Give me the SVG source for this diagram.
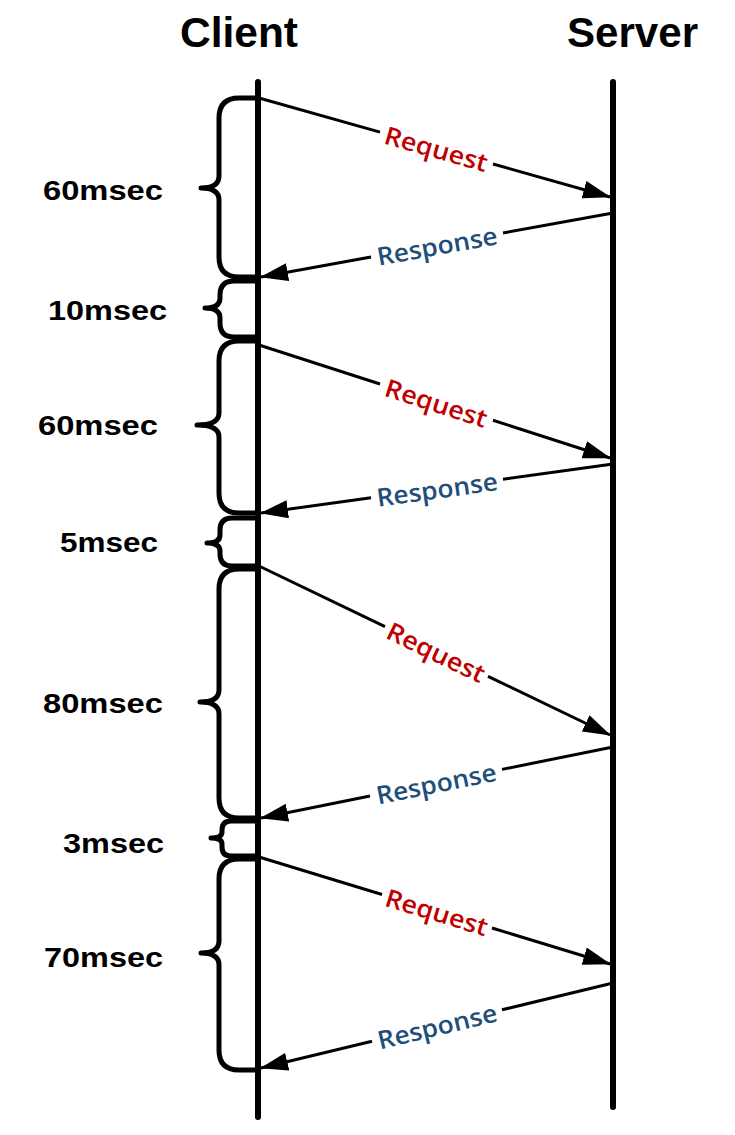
<svg xmlns="http://www.w3.org/2000/svg" width="735" height="1135" viewBox="0 0 735 1135">
<style>
.title{font-family:"Liberation Sans",Arial,sans-serif;font-weight:bold;font-size:42px;fill:#000}
.dur{font-family:"Liberation Sans",Arial,sans-serif;font-weight:bold;font-size:27px;fill:#000}
.req{font-family:"Open Sans","Liberation Sans",sans-serif;font-weight:600;font-size:25px;fill:#C00000}
.resp{font-family:"Open Sans","Liberation Sans",sans-serif;font-weight:600;font-size:25px;fill:#1F4E79}
.life{stroke:#000;stroke-width:6;stroke-linecap:round;fill:none}
.brace{stroke:#000;stroke-width:5;fill:none;stroke-linejoin:round}
.msg{stroke:#000;stroke-width:3;fill:none}
</style>
<defs>
<marker id="ah" markerWidth="28" markerHeight="18" refX="27" refY="9" orient="auto" markerUnits="userSpaceOnUse">
<path d="M0,0 L28,9 L0,18 z" fill="#000"/>
</marker>
</defs>
<g id="client">
<text class="title" x="180" y="47" textLength="118" lengthAdjust="spacingAndGlyphs">Client</text>
<line class="life" x1="258" y1="82" x2="258" y2="1117"/>
</g>
<g id="server">
<text class="title" x="567" y="47" textLength="131" lengthAdjust="spacingAndGlyphs">Server</text>
<line class="life" x1="613" y1="82" x2="613" y2="1107"/>
</g>
<g id="brace1">
<path class="brace" d="M258,98 H239 Q219,98 219,118 V176 Q219,188 201,188 Q219,188 219,200 V257 Q219,277 239,277 H258"/>
<text class="dur" x="43" y="200" textLength="120" lengthAdjust="spacingAndGlyphs">60msec</text>
</g>
<g id="brace2">
<path class="brace" d="M258,281 H234 Q220,281 220,295 V298 Q220,308 205,308 Q220,308 220,318 V323 Q220,337 234,337 H258"/>
<text class="dur" x="48" y="320" textLength="119" lengthAdjust="spacingAndGlyphs">10msec</text>
</g>
<g id="brace3">
<path class="brace" d="M258,341 H239 Q219,341 219,361 V413 Q219,425 197,425 Q219,425 219,437 V493 Q219,513 239,513 H258"/>
<text class="dur" x="38" y="435" textLength="120" lengthAdjust="spacingAndGlyphs">60msec</text>
</g>
<g id="brace4">
<path class="brace" d="M258,518 H232 Q220,518 220,530 V535 Q220,543 207,543 Q220,543 220,551 V554 Q220,566 232,566 H258"/>
<text class="dur" x="60" y="552" textLength="98" lengthAdjust="spacingAndGlyphs">5msec</text>
</g>
<g id="brace5">
<path class="brace" d="M258,569 H239 Q219,569 219,589 V690 Q219,702 200,702 Q219,702 219,714 V798 Q219,818 239,818 H258"/>
<text class="dur" x="43" y="713" textLength="120" lengthAdjust="spacingAndGlyphs">80msec</text>
</g>
<g id="brace6">
<path class="brace" d="M258,821 H231 Q222,821 222,830 V832 Q222,838 211,838 Q222,838 222,844 V847 Q222,856 231,856 H258"/>
<text class="dur" x="63" y="853" textLength="101" lengthAdjust="spacingAndGlyphs">3msec</text>
</g>
<g id="brace7">
<path class="brace" d="M258,859 H239 Q219,859 219,879 V941 Q219,953 201,953 Q219,953 219,965 V1050 Q219,1070 239,1070 H258"/>
<text class="dur" x="44" y="967" textLength="119" lengthAdjust="spacingAndGlyphs">70msec</text>
</g>
<g id="connectors">
<line class="msg" x1="259" y1="98" x2="380" y2="132.1"/>
<line class="msg" x1="493" y1="164" x2="610" y2="197" marker-end="url(#ah)"/>
<line class="msg" x1="613" y1="213" x2="503" y2="233"/>
<line class="msg" x1="371" y1="257" x2="261" y2="277" marker-end="url(#ah)"/>
<line class="msg" x1="259" y1="345" x2="380" y2="384"/>
<line class="msg" x1="493" y1="420.3" x2="610" y2="458" marker-end="url(#ah)"/>
<line class="msg" x1="613" y1="464" x2="503" y2="479.3"/>
<line class="msg" x1="371" y1="497.7" x2="261" y2="513" marker-end="url(#ah)"/>
<line class="msg" x1="259" y1="566" x2="385" y2="626.7"/>
<line class="msg" x1="488" y1="676.3" x2="610" y2="735" marker-end="url(#ah)"/>
<line class="msg" x1="613" y1="747" x2="502" y2="769.4"/>
<line class="msg" x1="370" y1="796" x2="261" y2="818" marker-end="url(#ah)"/>
<line class="msg" x1="259" y1="857" x2="382" y2="894.5"/>
<line class="msg" x1="492" y1="928" x2="610" y2="964" marker-end="url(#ah)"/>
<line class="msg" x1="613" y1="983" x2="502" y2="1009.8"/>
<line class="msg" x1="372" y1="1041.2" x2="261" y2="1068" marker-end="url(#ah)"/>
</g>
<g id="labels">
<text class="req" text-anchor="middle" dominant-baseline="central" textLength="106" lengthAdjust="spacingAndGlyphs" transform="translate(436.5,148.1) rotate(15.75)">Request</text>
<text class="resp" text-anchor="middle" dominant-baseline="central" textLength="122" lengthAdjust="spacingAndGlyphs" transform="translate(437,245) rotate(-10.3)">Response</text>
<text class="req" text-anchor="middle" dominant-baseline="central" textLength="106" lengthAdjust="spacingAndGlyphs" transform="translate(436.5,402.2) rotate(17.84)">Request</text>
<text class="resp" text-anchor="middle" dominant-baseline="central" textLength="122" lengthAdjust="spacingAndGlyphs" transform="translate(437,488.5) rotate(-7.92)">Response</text>
<text class="req" text-anchor="middle" dominant-baseline="central" textLength="106" lengthAdjust="spacingAndGlyphs" transform="translate(436.5,651.5) rotate(25.7)">Request</text>
<text class="resp" text-anchor="middle" dominant-baseline="central" textLength="122" lengthAdjust="spacingAndGlyphs" transform="translate(436,782.7) rotate(-11.4)">Response</text>
<text class="req" text-anchor="middle" dominant-baseline="central" textLength="106" lengthAdjust="spacingAndGlyphs" transform="translate(437,911.3) rotate(16.95)">Request</text>
<text class="resp" text-anchor="middle" dominant-baseline="central" textLength="122" lengthAdjust="spacingAndGlyphs" transform="translate(437,1025.5) rotate(-13.6)">Response</text>
</g>
</svg>
